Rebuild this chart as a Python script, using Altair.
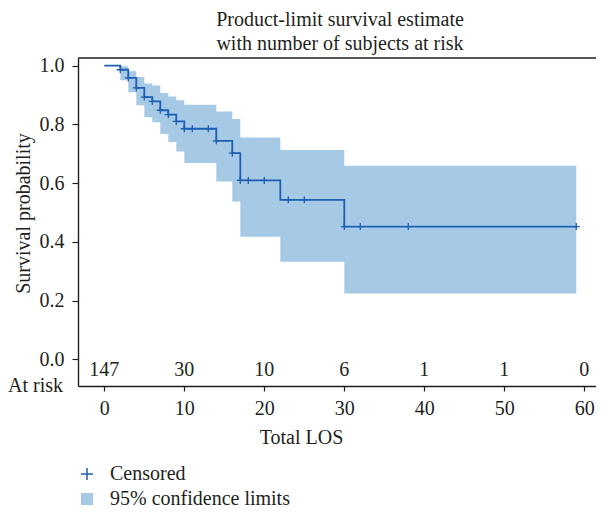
import altair as alt
import pandas as pd

# ---- data ----
step_time = [0, 2, 3, 4, 5, 6, 7, 8, 9, 10, 14, 16, 17, 22, 30, 59]
step_surv = [1.0, 0.986, 0.958, 0.924, 0.893, 0.878, 0.848, 0.833, 0.810,
             0.785, 0.744, 0.702, 0.609, 0.543, 0.452, 0.452]

band_time = [2, 3, 4, 5, 6, 7, 8, 9, 10, 14, 16, 17, 22, 30, 59]
band_upper = [0.998, 0.981, 0.961, 0.939, 0.932, 0.907, 0.895, 0.882, 0.867,
              0.844, 0.818, 0.755, 0.713, 0.659, 0.659]
band_lower = [0.950, 0.909, 0.865, 0.824, 0.807, 0.767, 0.740, 0.708, 0.668,
              0.605, 0.537, 0.417, 0.332, 0.224, 0.224]

censor_time = [2, 3, 4, 5, 6, 7, 8, 9, 10, 11, 13, 14, 16, 17, 18, 20, 23, 25,
               30, 32, 38, 59]

risk_time = [0, 10, 20, 30, 40, 50, 60]
risk_count = ["147", "30", "10", "6", "1", "1", "0"]

x_ticks = [0, 10, 20, 30, 40, 50, 60]
y_ticks = [0.0, 0.2, 0.4, 0.6, 0.8, 1.0]

title_lines = ["Product-limit survival estimate", "with number of subjects at risk"]

# ---- tables ----
step_df = pd.DataFrame({"t": step_time, "s": step_surv})
band_df = pd.DataFrame({"t": band_time, "lo": band_lower, "hi": band_upper,
                        "kind_b": "95% confidence limits"})


def s_at(t):
    val = step_surv[0]
    for tt, ss in zip(step_time, step_surv):
        if tt <= t:
            val = ss
    return val


cens_df = pd.DataFrame({"t": censor_time, "s": [s_at(c) for c in censor_time],
                        "kind_c": "Censored"})
risk_df = pd.DataFrame({"t": risk_time, "n": risk_count})
lab_df = pd.DataFrame({"label": ["At risk"]})
one_df = pd.DataFrame({"a": [0]})

FONT = "Liberation Serif"
TXT = "#231f20"
LINE = "#1f5fb3"
BAND = "#a6cae5"
PLUS = "M-1,0H1M0,-1V1"

W, H = 518, 328
PX = 8.0
XMIN = -26.3 / PX
XMAX = XMIN + W / PX

xscale = alt.Scale(domain=[XMIN, XMAX], nice=False, zero=False)
yscale = alt.Scale(domain=[-0.091, 1.026], nice=False, zero=False)

xaxis = alt.Axis(values=x_ticks, title="Total LOS", titleX=223, titleY=57,
                 titleBaseline="alphabetic", tickSize=5, labelPadding=23,
                 labelBaseline="alphabetic", labelFlush=False, grid=False)
yaxis = alt.Axis(values=y_ticks, format=".1f", title="Survival probability",
                 titleX=-49, titleY=155, titleBaseline="alphabetic",
                 titleAngle=270, tickSize=6, labelPadding=8, grid=False)

band = alt.Chart(band_df).mark_area(interpolate="step-after", opacity=1).encode(
    x=alt.X("t:Q", scale=xscale, axis=xaxis),
    y=alt.Y("lo:Q", scale=yscale, axis=yaxis),
    y2="hi:Q",
    fill=alt.Fill("kind_b:N",
                  scale=alt.Scale(domain=["95% confidence limits"], range=[BAND]),
                  legend=alt.Legend(orient="none", legendX=-1, legendY=431,
                                    title=None, symbolType="square",
                                    symbolSize=144, symbolStrokeWidth=0,
                                    labelOffset=13, padding=0, labelLimit=400,
                                    labelFont=FONT, labelFontSize=20,
                                    labelColor=TXT)),
)

line = alt.Chart(step_df).mark_line(interpolate="step-after", color=LINE,
                                    strokeWidth=1.8).encode(
    x=alt.X("t:Q", scale=xscale),
    y=alt.Y("s:Q", scale=yscale),
)

pts = alt.Chart(cens_df).mark_point(filled=False, color=LINE, strokeWidth=1.3,
                                    size=50, opacity=1).encode(
    x=alt.X("t:Q", scale=xscale),
    y=alt.Y("s:Q", scale=yscale),
    shape=alt.Shape("kind_c:N",
                    scale=alt.Scale(domain=["Censored"], range=[PLUS]),
                    legend=alt.Legend(orient="none", legendX=-1, legendY=406,
                                      title=None, symbolSize=144,
                                      symbolStrokeWidth=1.5,
                                      symbolStrokeColor=LINE,
                                      labelOffset=13, padding=0, labelLimit=400,
                                      labelFont=FONT, labelFontSize=20,
                                      labelColor=TXT)),
)

risk = alt.Chart(risk_df).mark_text(font=FONT, fontSize=20, color=TXT,
                                    baseline="alphabetic", align="center").encode(
    x=alt.X("t:Q", scale=xscale),
    y=alt.value(318),
    text="n:N",
)

atrisk = alt.Chart(lab_df).mark_text(font=FONT, fontSize=20, color=TXT,
                                     baseline="alphabetic", align="right").encode(
    x=alt.value(-15),
    y=alt.value(334),
    text="label:N",
)

title1 = alt.Chart(pd.DataFrame({"txt": [title_lines[0]]})).mark_text(
    font=FONT, fontSize=20, color=TXT, baseline="alphabetic", align="center"
).encode(x=alt.value(262), y=alt.value(-32), text="txt:N")

title2 = alt.Chart(pd.DataFrame({"txt": [title_lines[1]]})).mark_text(
    font=FONT, fontSize=20, color=TXT, baseline="alphabetic", align="center"
).encode(x=alt.value(262), y=alt.value(-8), text="txt:N")

top = alt.Chart(one_df).mark_rule(color=TXT, strokeWidth=1.6).encode(
    x=alt.value(0), x2=alt.value(W), y=alt.value(0)
)

chart = alt.layer(band, line, pts, risk, atrisk, title1, title2, top).properties(
    width=W, height=H,
    padding={"left": 70, "top": 50, "right": 0, "bottom": 123},
    autosize=alt.AutoSizeParams(type="none"),
).configure_view(stroke=None).configure_axis(
    labelFont=FONT, labelFontSize=20, labelColor=TXT,
    titleFont=FONT, titleFontSize=20, titleColor=TXT, titleFontWeight="normal",
    domainColor=TXT, domainWidth=1.4, tickColor=TXT, tickWidth=1.2,
)

chart.save("out.html", embed_options={"renderer": "svg", "actions": False})
